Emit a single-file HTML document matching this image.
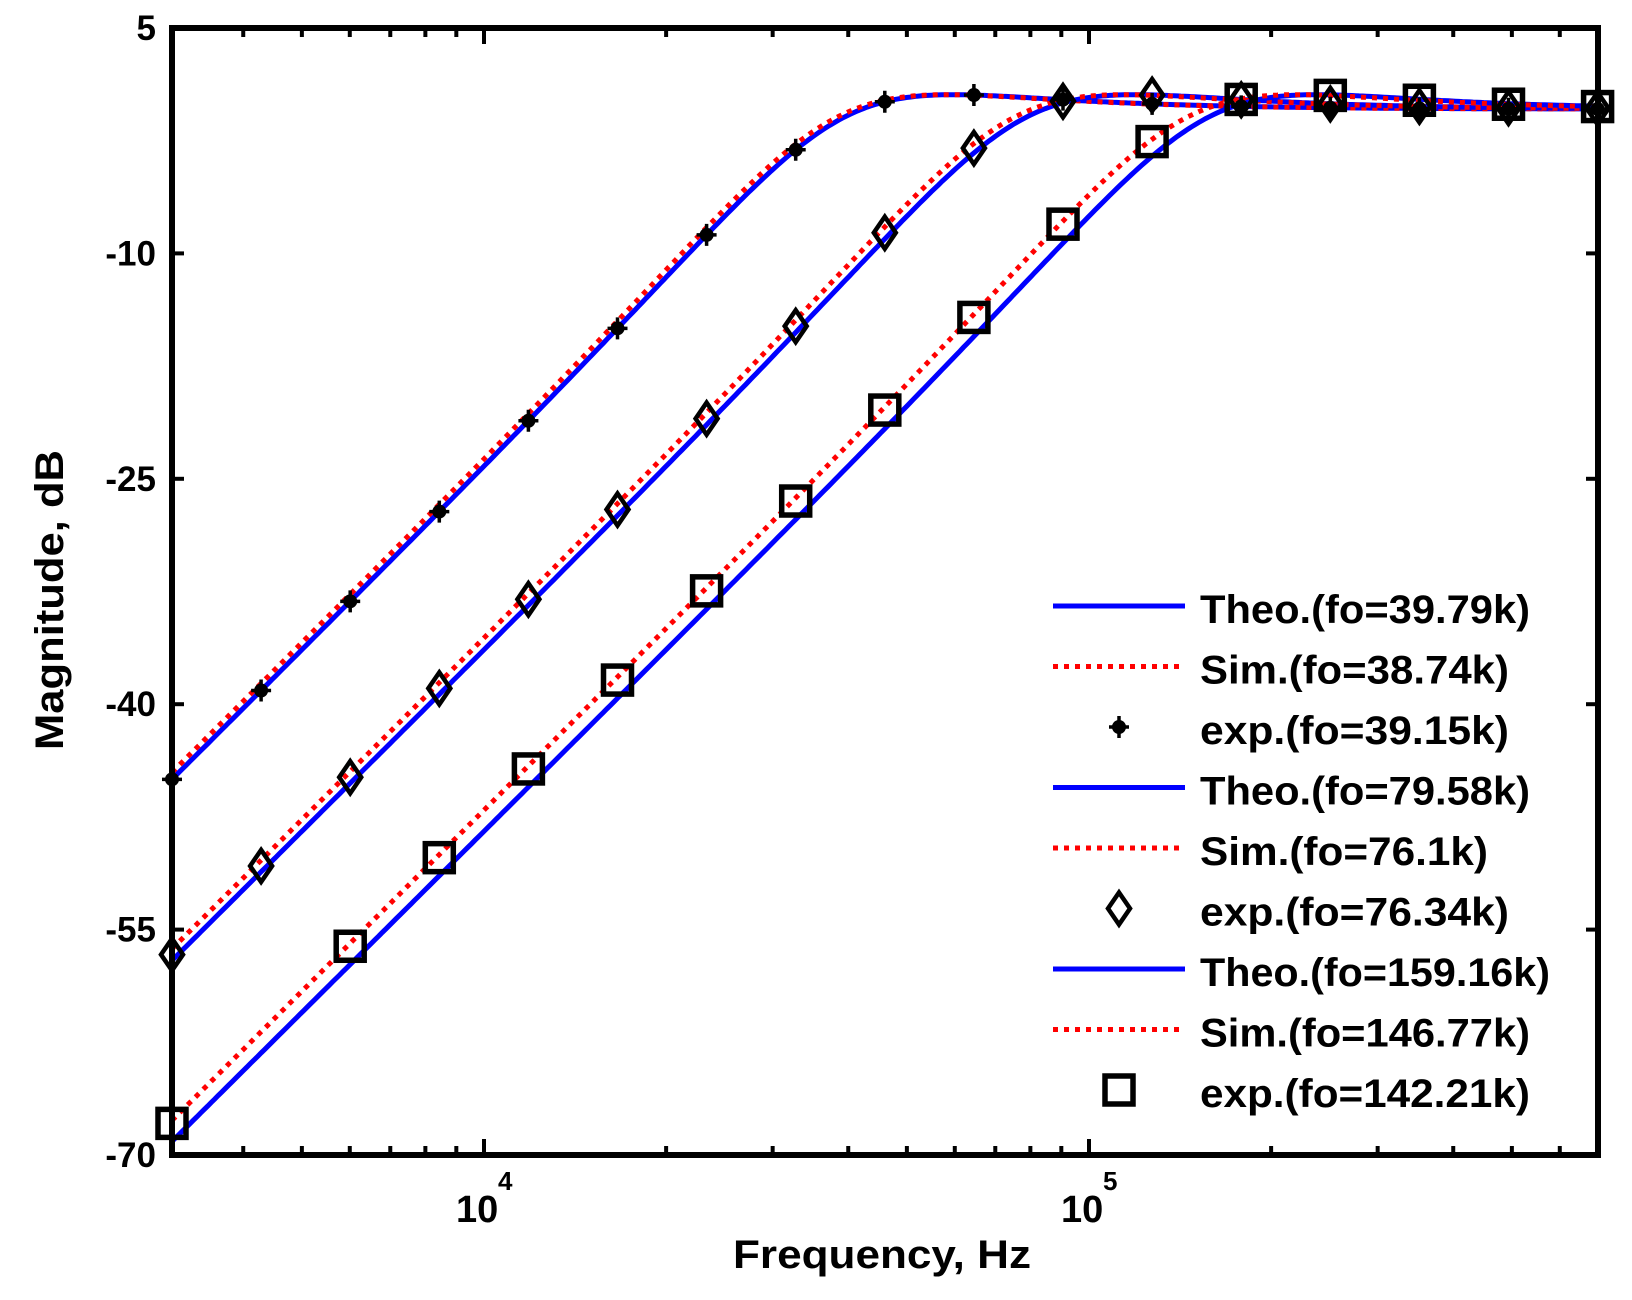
<!DOCTYPE html>
<html><head><meta charset="utf-8"><style>
html,body{margin:0;padding:0;background:#fff;}
svg{display:block;font-family:"Liberation Sans",Arial,sans-serif;font-weight:bold;}
</style></head><body>
<svg id="s" width="1632" height="1300" viewBox="0 0 1632 1300" xmlns="http://www.w3.org/2000/svg">
<rect width="1632" height="1300" fill="#fff"/>
<g id="plot"></g>
<g id="axes"></g>
<g id="leg"></g>
</svg>
<script>
var L=172,R=1598,T=28,B=1155,DEC=605;
function X(f){return 484+(Math.log10(f)-4)*DEC;}
function Y(d){return T+(5-d)*(B-T)/75;}
function H(f,f0,Q){var u=f/f0;var m=u*u/Math.sqrt((1-u*u)*(1-u*u)+u*u/(Q*Q));return 20*Math.log10(m)-0.4;}
var NS="http://www.w3.org/2000/svg";
function el(p,n,a){var e=document.createElementNS(NS,n);for(var k in a)e.setAttribute(k,a[k]);p.appendChild(e);return e;}
var plot=document.getElementById('plot'),axes=document.getElementById('axes'),leg=document.getElementById('leg');
var defs=el(plot,'defs',{});var cp=el(defs,'clipPath',{id:'c'});el(cp,'rect',{x:L,y:T,width:R-L,height:B-T});
var g=el(plot,'g',{'clip-path':'url(#c)'});
function curve(f0,Q,col,dash){var d='';for(var i=0;i<=400;i++){var x=L+(R-L)*i/400;var f=Math.pow(10,4+(x-484)/DEC);d+=(i?'L':'M')+x.toFixed(1)+','+Y(H(f,f0,Q)).toFixed(1);}
var a={d:d,fill:'none',stroke:col,'stroke-width':5};if(dash)a['stroke-dasharray']=dash;el(g,'path',a);}
var theo=[39790,79580,159160],sim=[38740,76100,146770],ex=[39800,77800,148500];
for(var i=0;i<3;i++){curve(theo[i],0.95,'#0000ff');curve(sim[i],0.95,'#ff0000','5,6');}
function star(p,x,y){el(p,'path',{d:'M'+(x-10)+','+y+'L'+(x+10)+','+y+'M'+x+','+(y-11)+'L'+x+','+(y+11),stroke:'#000','stroke-width':3.5});el(p,'circle',{cx:x,cy:y,r:7,fill:'#000'});}
function dia(p,x,y){el(p,'path',{d:'M'+x+','+(y-16)+'L'+(x+11)+','+y+'L'+x+','+(y+16)+'L'+(x-11)+','+y+'Z',fill:'none',stroke:'#000','stroke-width':4.5});}
function sq(p,x,y){el(p,'rect',{x:x-14,y:y-14,width:28,height:28,fill:'none',stroke:'#000','stroke-width':5.5});}
for(var k=0;k<17;k++){var x=L+k*89.1;var f=Math.pow(10,4+(x-484)/DEC);
 star(plot,x,Y(H(f,ex[0],0.95)));
 dia(plot,x,Y(H(f,ex[1],0.95)));
 if(k!=1)sq(plot,x,Y(H(f,ex[2],0.95)));}
el(axes,'rect',{x:L,y:T,width:R-L,height:B-T,fill:'none',stroke:'#000','stroke-width':6});
var yl=[5,-10,-25,-40,-55,-70];
yl.forEach(function(v){var y=Y(v);el(axes,'line',{x1:L,y1:y,x2:L+12,y2:y,stroke:'#000','stroke-width':4});el(axes,'line',{x1:R,y1:y,x2:R-12,y2:y,stroke:'#000','stroke-width':4});
 var t=el(axes,'text',{x:156,y:y+12,'text-anchor':'end','font-size':35});t.textContent=String(v);});
[3,4,5].forEach(function(e){for(var m=1;m<10;m++){var f=m*Math.pow(10,e);var x=X(f);if(x<L+2||x>R-2)continue;var len=(m==1)?16:9;
 el(axes,'line',{x1:x,y1:B,x2:x,y2:B-len,stroke:'#000','stroke-width':4});el(axes,'line',{x1:x,y1:T,x2:x,y2:T+len,stroke:'#000','stroke-width':4});}});
[[4,484],[5,1089]].forEach(function(a){var t=el(axes,'text',{x:a[1]-28,y:1222,'font-size':38});t.textContent='10';var s=el(axes,'text',{x:a[1]+14,y:1190,'font-size':26});s.textContent=String(a[0]);});
var xt=el(axes,'text',{x:882,y:1268,'text-anchor':'middle','font-size':40,textLength:298,lengthAdjust:'spacingAndGlyphs'});xt.textContent='Frequency, Hz';
var yt=el(axes,'text',{x:0,y:0,'text-anchor':'middle','font-size':40,textLength:300,lengthAdjust:'spacingAndGlyphs',transform:'translate(63,600) rotate(-90)'});yt.textContent='Magnitude, dB';
var labs=['Theo.(fo=39.79k)','Sim.(fo=38.74k)','exp.(fo=39.15k)','Theo.(fo=79.58k)','Sim.(fo=76.1k)','exp.(fo=76.34k)','Theo.(fo=159.16k)','Sim.(fo=146.77k)','exp.(fo=142.21k)'];
for(var i=0;i<9;i++){var base=623+i*60.5;var cy=base-17;var t=i%3;
 if(t==0)el(leg,'line',{x1:1053,y1:cy,x2:1185,y2:cy,stroke:'#0000ff','stroke-width':5});
 else if(t==1)el(leg,'line',{x1:1053,y1:cy,x2:1185,y2:cy,stroke:'#ff0000','stroke-width':5,'stroke-dasharray':'5,6'});
 else{if(i==2)star(leg,1119,cy);else if(i==5)dia(leg,1119,cy);else sq(leg,1119,cy);}
 var tx=el(leg,'text',{x:1200,y:base,'font-size':40});tx.textContent=labs[i];
 tx.setAttribute('textLength',(labs[i].length*20.6).toFixed(0));tx.setAttribute('lengthAdjust','spacingAndGlyphs');}
</script>
</body></html>
